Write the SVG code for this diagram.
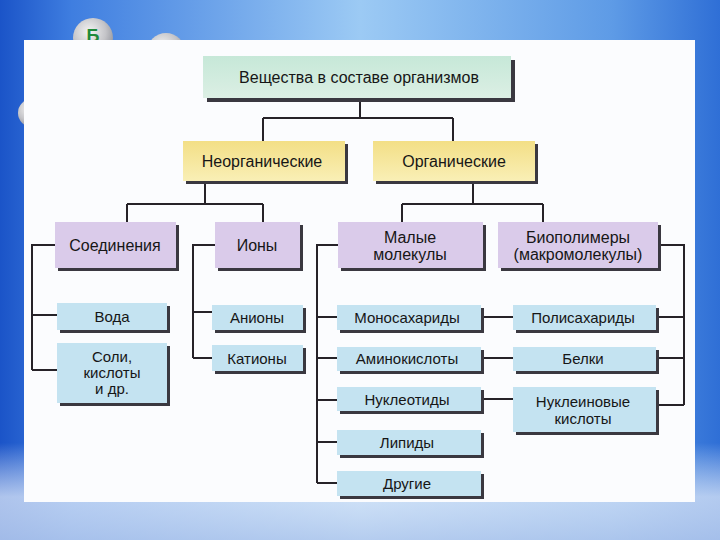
<svg xmlns="http://www.w3.org/2000/svg" width="720" height="540" viewBox="0 0 720 540">
<defs>
<linearGradient id="bgH" x1="0" y1="0" x2="1" y2="0">
<stop offset="0" stop-color="#1b54c8"/>
<stop offset="0.1" stop-color="#3f7ee0"/>
<stop offset="0.5" stop-color="#9ccaf4"/>
<stop offset="0.85" stop-color="#5e9be6"/>
<stop offset="1" stop-color="#2f6fd6"/>
</linearGradient>
<linearGradient id="bgV" x1="0" y1="0" x2="0" y2="1">
<stop offset="0" stop-color="#ffffff" stop-opacity="0"/>
<stop offset="0.82" stop-color="#ffffff" stop-opacity="0"/>
<stop offset="0.92" stop-color="#dfe9f8" stop-opacity="0.75"/>
<stop offset="1" stop-color="#b9cdee" stop-opacity="0.85"/>
</linearGradient>
<radialGradient id="ball" cx="0.4" cy="0.35" r="0.7">
<stop offset="0" stop-color="#f4f4f4"/>
<stop offset="0.6" stop-color="#c4c4c8"/>
<stop offset="1" stop-color="#8e9098"/>
</radialGradient>
<linearGradient id="gTop" x1="0" y1="0" x2="0" y2="1">
<stop offset="0" stop-color="#c6e8d8"/>
<stop offset="1" stop-color="#dcefe4"/>
</linearGradient>
<linearGradient id="gYel" x1="0" y1="0" x2="0" y2="1">
<stop offset="0" stop-color="#f3df86"/>
<stop offset="1" stop-color="#f9efb6"/>
</linearGradient>
<style>
.sh{fill:#3a3840}
.top{fill:url(#gTop)}
.yel{fill:url(#gYel)}
.lav{fill:#dacbea}
.blu{fill:#c4e3f1}
text{font-family:"Liberation Sans",Arial,sans-serif;fill:#161616;text-anchor:middle;dominant-baseline:central}
.t14{font-size:16px}
.t13{font-size:15px}
.ln{stroke:#262228;stroke-width:2;fill:none}
</style>
</defs>
<rect width="720" height="540" fill="url(#bgH)"/>
<rect width="720" height="540" fill="url(#bgV)"/>
<g id="decor">
<circle cx="93" cy="38" r="20" fill="url(#ball)"/>
<text x="93" y="36" style="font-size:18px;font-weight:bold;fill:#1f8a3a">Б</text>
<circle cx="166" cy="52" r="19" fill="url(#ball)"/>
<circle cx="32" cy="113" r="14" fill="url(#ball)"/>
</g>
<rect id="panel" x="24" y="40" width="671" height="462" fill="#fbfcfe"/>

<g id="connectors" class="ln">
<path d="M360 101V118M263 118H453M263 118V141M453 118V141"/>
<path d="M205 184V204M127 204H263M127 204V222M263 204V222"/>
<path d="M473 184V204M402 204H543M402 204V222M543 204V222"/>
<path d="M55 245H32V370M32 315H57M32 370H57"/>
<path d="M215 245H193V358M193 312H212M193 358H212"/>
<path d="M338 245H317V483M317 317H337M317 358H337M317 400H337M317 442H337M317 483H337"/>
<path d="M661 245H684V405M684 317H659M684 358H659M684 405H659"/>
<path d="M484 317H513M484 358H513M484 399H513"/>
</g>

<g id="n-root"><rect class="sh" x="207" y="60" width="308" height="42"/><rect class="top" x="203" y="56" width="308" height="42"/><text class="t14" x="359" y="77">Вещества в составе организмов</text></g>
<g id="n-inorg"><rect class="sh" x="186" y="144" width="162" height="40"/><rect class="yel" x="183" y="141" width="162" height="40"/><text class="t14" x="262" y="161">Неорганические</text></g>
<g id="n-org"><rect class="sh" x="376" y="144" width="162" height="40"/><rect class="yel" x="373" y="141" width="162" height="40"/><text class="t14" x="454" y="161">Органические</text></g>

<g id="n-comp"><rect class="sh" x="58" y="225" width="121" height="46"/><rect class="lav" x="55" y="222" width="121" height="46"/><text class="t14" x="115" y="245">Соединения</text></g>
<g id="n-ions"><rect class="sh" x="218" y="225" width="85" height="46"/><rect class="lav" x="215" y="222" width="85" height="46"/><text class="t14" x="257" y="245">Ионы</text></g>
<g id="n-small"><rect class="sh" x="341" y="225" width="145" height="46"/><rect class="lav" x="338" y="222" width="145" height="46"/><text class="t14" x="410" y="237">Малые</text><text class="t14" x="410" y="254">молекулы</text></g>
<g id="n-bio"><rect class="sh" x="501" y="225" width="160" height="46"/><rect class="lav" x="498" y="222" width="160" height="46"/><text class="t14" x="578" y="237">Биополимеры</text><text class="t14" x="578" y="254">(макромолекулы)</text></g>

<g id="n-water"><rect class="sh" x="60" y="306" width="110" height="27"/><rect class="blu" x="57" y="303" width="110" height="27"/><text class="t13" x="112" y="316">Вода</text></g>
<g id="n-salts"><rect class="sh" x="60" y="346" width="110" height="60"/><rect class="blu" x="57" y="343" width="110" height="60"/><text class="t13" x="112" y="356">Соли,</text><text class="t13" x="112" y="372">кислоты</text><text class="t13" x="112" y="388">и др.</text></g>
<g id="n-anions"><rect class="sh" x="215" y="308" width="91" height="25"/><rect class="blu" x="212" y="305" width="91" height="25"/><text class="t13" x="257" y="317">Анионы</text></g>
<g id="n-cations"><rect class="sh" x="215" y="348" width="91" height="26"/><rect class="blu" x="212" y="345" width="91" height="26"/><text class="t13" x="257" y="358">Катионы</text></g>

<g id="n-mono"><rect class="sh" x="340" y="308" width="144" height="25"/><rect class="blu" x="337" y="305" width="144" height="25"/><text class="t13" x="407" y="317">Моносахариды</text></g>
<g id="n-amino"><rect class="sh" x="340" y="350" width="144" height="24"/><rect class="blu" x="337" y="347" width="144" height="24"/><text class="t13" x="407" y="358">Аминокислоты</text></g>
<g id="n-nucl"><rect class="sh" x="340" y="390" width="144" height="24"/><rect class="blu" x="337" y="387" width="144" height="24"/><text class="t13" x="407" y="399">Нуклеотиды</text></g>
<g id="n-lipid"><rect class="sh" x="340" y="433" width="144" height="25"/><rect class="blu" x="337" y="430" width="144" height="25"/><text class="t13" x="407" y="442">Липиды</text></g>
<g id="n-other"><rect class="sh" x="340" y="474" width="144" height="25"/><rect class="blu" x="337" y="471" width="144" height="25"/><text class="t13" x="407" y="483">Другие</text></g>

<g id="n-poly"><rect class="sh" x="516" y="308" width="143" height="25"/><rect class="blu" x="513" y="305" width="143" height="25"/><text class="t13" x="583" y="317">Полисахариды</text></g>
<g id="n-prot"><rect class="sh" x="516" y="350" width="143" height="24"/><rect class="blu" x="513" y="347" width="143" height="24"/><text class="t13" x="583" y="358">Белки</text></g>
<g id="n-nacid"><rect class="sh" x="516" y="390" width="143" height="45"/><rect class="blu" x="513" y="387" width="143" height="45"/><text class="t13" x="583" y="401">Нуклеиновые</text><text class="t13" x="583" y="418">кислоты</text></g>
</svg>
